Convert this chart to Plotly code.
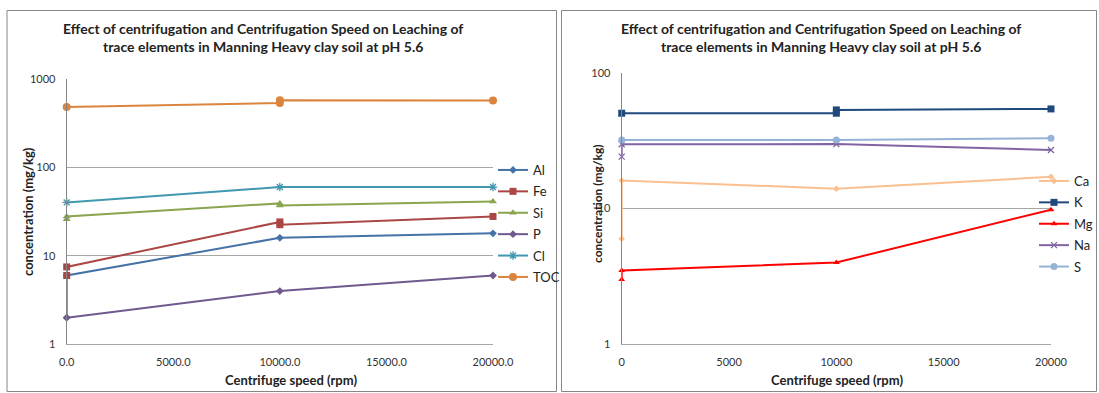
import plotly.graph_objects as go

# Centrifuge speed ticks (rpm)
speed_ticks = [0, 5000, 10000, 15000, 20000]
left_tick_text = ["0.0", "5000.0", "10000.0", "15000.0", "20000.0"]
right_tick_text = ["0", "5000", "10000", "15000", "20000"]

# Trace elements, panel 1 (mg/kg)
al_x = [0, 0, 10000, 20000]
al_y = [2.0, 6.0, 16.0, 18.0]
fe_x = [0, 0, 10000, 10000, 20000]
fe_y = [6.0, 7.5, 24.2, 22.5, 27.9]
si_x = [0, 0, 10000, 10000, 20000]
si_y = [26.0, 27.9, 39.2, 37.2, 41.3]
p_x = [0, 10000, 20000]
p_y = [2.0, 4.0, 6.0]
cl_x = [0, 10000, 20000]
cl_y = [40.2, 60.0, 60.0]
toc_x = [0, 10000, 10000, 20000]
toc_y = [483, 535, 575, 572]

# Major cations and S, panel 2 (mg/kg)
ca_x = [0, 0, 10000, 20000]
ca_y = [6.0, 16.1, 14.0, 17.1]
k_x = [0, 10000, 10000, 20000]
k_y = [50.3, 50.3, 53.2, 54.1]
mg_x = [0, 0, 10000, 20000]
mg_y = [3.0, 3.5, 4.0, 9.8]
na_x = [0, 0, 10000, 20000]
na_y = [24.1, 29.7, 29.8, 27.0]
s_x = [0, 10000, 20000]
s_y = [32.0, 32.0, 32.9]

W, H = 1099, 393
FONT = "Lato"


def px_x(v):
    return v / W


def px_y(v):
    return 1 - v / H


fig = go.Figure()

left_series = [
    ("Al", al_x, al_y, "#4572A7", "diamond", 6),
    ("Fe", fe_x, fe_y, "#AA4643", "square", 7),
    ("Si", si_x, si_y, "#89A54E", "triangle-up", 7),
    ("P", p_x, p_y, "#71588F", "diamond", 6),
    ("Cl", cl_x, cl_y, "#4198AF", "asterisk-open", 7),
    ("TOC", toc_x, toc_y, "#DB843D", "circle", 8),
]
right_series = [
    ("Ca", ca_x, ca_y, "#FAC08F", "diamond", 5),
    ("K", k_x, k_y, "#1F497D", "square", 7),
    ("Mg", mg_x, mg_y, "#FF0000", "triangle-up", 6),
    ("Na", na_x, na_y, "#8064A2", "x-thin-open", 6),
    ("S", s_x, s_y, "#95B3D7", "circle", 7),
]


def add_series(series, xa, ya, legend):
    for name, xs, ys, color, sym, size in series:
        open_sym = sym.endswith("open")
        fig.add_trace(go.Scatter(
            x=xs, y=ys, name=name, mode="lines+markers",
            xaxis=xa, yaxis=ya, legend=legend, legendgroup=legend + name,
            line=dict(color=color, width=2),
            marker=dict(symbol=sym, size=size, color=color,
                        line=dict(color=color, width=1.3 if open_sym else 0)),
            cliponaxis=False,
        ))


add_series(left_series, "x", "y", "legend")
add_series(right_series, "x2", "y2", "legend2")

grid = "#A6A6A6"
axis_line = "#868686"
tick_font = dict(family=FONT, size=11, color="#333333")

common_x = dict(range=[0, 20000], tickvals=speed_ticks, showgrid=False,
                zeroline=False, showline=True, linecolor=grid, linewidth=1,
                ticks="", tickfont=tick_font, ticklabelstandoff=7)
common_y = dict(type="log", showgrid=True, gridcolor=grid, gridwidth=1,
                zeroline=False, showline=True, linecolor=axis_line, linewidth=1,
                ticks="", tickfont=tick_font, ticklabelstandoff=8)

legend_font = dict(family=FONT, size=13, color="#222222")

fig.update_layout(
    width=W, height=H,
    margin=dict(l=0, r=0, t=0, b=0, autoexpand=False),
    paper_bgcolor="white", plot_bgcolor="white",
    showlegend=True,
    xaxis=dict(domain=[px_x(66.7), px_x(493)], anchor="y",
               ticktext=left_tick_text, **common_x),
    yaxis=dict(domain=[px_y(344.3), px_y(79)], anchor="x", range=[0, 3],
               tickvals=[1, 10, 100, 1000], ticktext=["1", "10", "100", "1000"],
               **common_y),
    xaxis2=dict(domain=[px_x(621.7), px_x(1051)], anchor="y2",
                ticktext=right_tick_text, **common_x),
    yaxis2=dict(domain=[px_y(344.3), px_y(72.7)], anchor="x2", range=[0, 2],
                tickvals=[1, 10, 100], ticktext=["1", "10", "100"],
                **common_y),
    legend=dict(x=px_x(493), y=px_y(155), xanchor="left", yanchor="top",
                font=legend_font, tracegroupgap=1.5, itemwidth=30,
                bgcolor="rgba(0,0,0,0)"),
    legend2=dict(x=px_x(1034), y=px_y(166), xanchor="left", yanchor="top",
                 font=legend_font, tracegroupgap=1.5, itemwidth=30,
                 bgcolor="rgba(0,0,0,0)"),
)

# Chart frames
fig.add_shape(type="rect", xref="paper", yref="paper",
              x0=px_x(7), x1=px_x(556.5), y0=px_y(391.5), y1=px_y(10.5),
              line=dict(color=axis_line, width=1))
fig.add_shape(type="rect", xref="paper", yref="paper",
              x0=px_x(561.5), x1=px_x(1096.5), y0=px_y(391.5), y1=px_y(10.5),
              line=dict(color=axis_line, width=1))

title_lines = ["Effect of centrifugation and Centrifugation Speed on Leaching of",
               "trace elements in Manning Heavy clay soil at pH 5.6"]
title_font = dict(family=FONT, size=14, color="#222222")

for cx, ycx, ycy, ysize in [(262.5, 28, 212, 13), (821, 597, 204, 12)]:
    fig.add_annotation(xref="paper", yref="paper", x=px_x(cx), y=px_y(37),
                       text="<b>" + "<br>".join(title_lines) + "</b>",
                       showarrow=False, font=title_font, align="center",
                       xanchor="center", yanchor="middle")
    fig.add_annotation(xref="paper", yref="paper", x=px_x(ycx), y=px_y(ycy),
                       text="<b>concentration (mg/kg)</b>", textangle=-90,
                       showarrow=False,
                       font=dict(family=FONT, size=ysize, color="#222222"),
                       xanchor="center", yanchor="middle")

for cx in [291, 836.5]:
    fig.add_annotation(xref="paper", yref="paper", x=px_x(cx), y=px_y(380),
                       text="<b>Centrifuge speed (rpm)</b>",
                       showarrow=False,
                       font=dict(family=FONT, size=13, color="#222222"),
                       xanchor="center", yanchor="middle")

fig.write_html("out.html")
